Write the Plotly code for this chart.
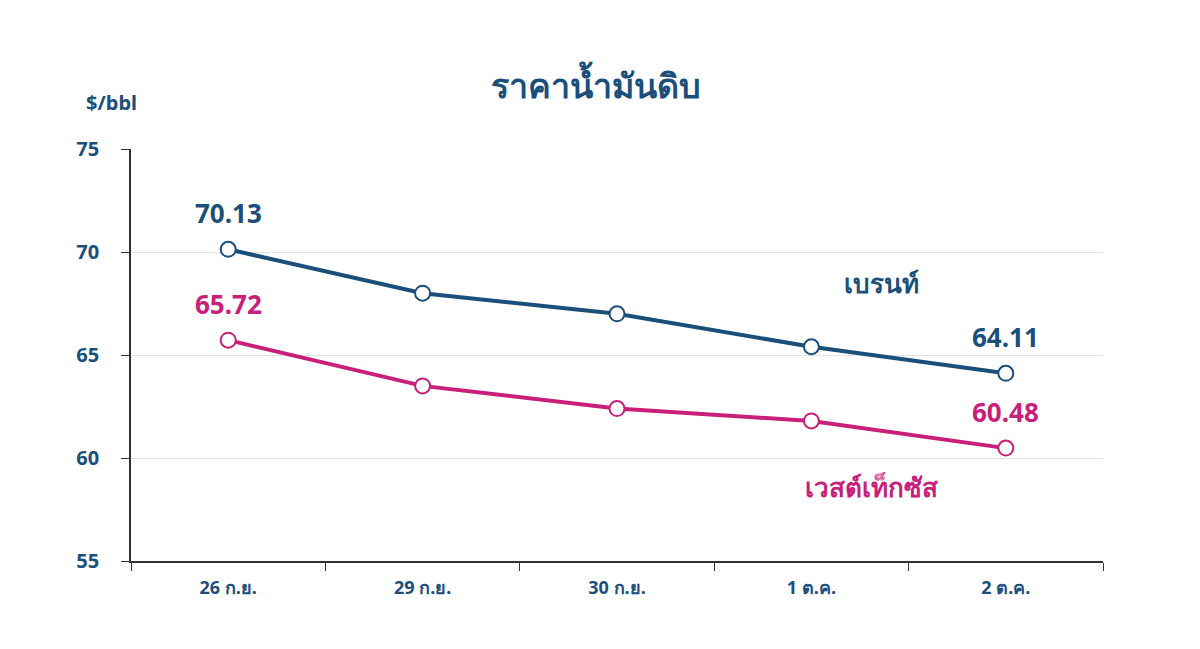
import plotly.graph_objects as go

dates = ["26 ก.ย.", "29 ก.ย.", "30 ก.ย.", "1 ต.ค.", "2 ต.ค."]
brent = [70.13, 68.0, 67.0, 65.4, 64.11]
wti = [65.72, 63.5, 62.4, 61.8, 60.48]

BLUE = "#1b4f7b"
PINK = "#c8207a"
FONT = "Noto Sans, DejaVu Sans, sans-serif"

fig = go.Figure()
for vals, col, name in [(brent, BLUE, "เบรนท์"), (wti, PINK, "เวสต์เท็กซัส")]:
    fig.add_scatter(x=dates, y=vals, mode="lines+markers", name=name,
                    line=dict(color=col, width=4),
                    marker=dict(size=15, color="white", line=dict(color=col, width=2)))

# end value labels
for vals, col in [(brent, BLUE), (wti, PINK)]:
    for i in (0, len(vals) - 1):
        fig.add_annotation(x=dates[i], y=vals[i], text=f"<b>{vals[i]:.2f}</b>",
                           showarrow=False, yshift=36, font=dict(size=26, color=col))

fig.add_annotation(x=dates[3], y=68.5, text="<b>เบรนท์</b>", showarrow=False,
                   xshift=70, font=dict(size=26, color=BLUE))
fig.add_annotation(x=dates[3], y=58.6, text="<b>เวสต์เท็กซัส</b>", showarrow=False,
                   xshift=60, font=dict(size=26, color=PINK))

fig.update_layout(
    width=1200, height=649, template="plotly_white", showlegend=False,
    paper_bgcolor="white", plot_bgcolor="white",
    margin=dict(l=123, r=105, t=141, b=96),
    font=dict(family=FONT),
    title=dict(text="<b>ราคาน้ำมันดิบ</b>", x=0.49, xanchor="center", y=0.88, yanchor="middle",
               font=dict(size=34, color=BLUE)),
)
fig.add_annotation(xref="paper", yref="paper", x=-0.02, y=1.15, xanchor="center",
                   text="<b>$/bbl</b>", showarrow=False, font=dict(size=20, color=BLUE))
fig.update_xaxes(type="category", range=[-0.5, 4.5], showline=True, linecolor="#333",
                 linewidth=1.5, ticks="outside", tickson="boundaries", ticklen=8,
                 tickcolor="#333", showgrid=False,
                 tickfont=dict(size=18, color=BLUE, family=FONT, weight="bold"),
                 ticklabelstandoff=10)
fig.update_yaxes(range=[55, 75], dtick=5, showline=True, linecolor="#333", linewidth=1.5,
                 ticks="outside", ticklen=8, tickcolor="#333", gridcolor="#e3e3e3",
                 zeroline=False, tickfont=dict(size=20, color=BLUE, weight="bold"),
                 ticklabelstandoff=18)
fig.write_html("out.html")
